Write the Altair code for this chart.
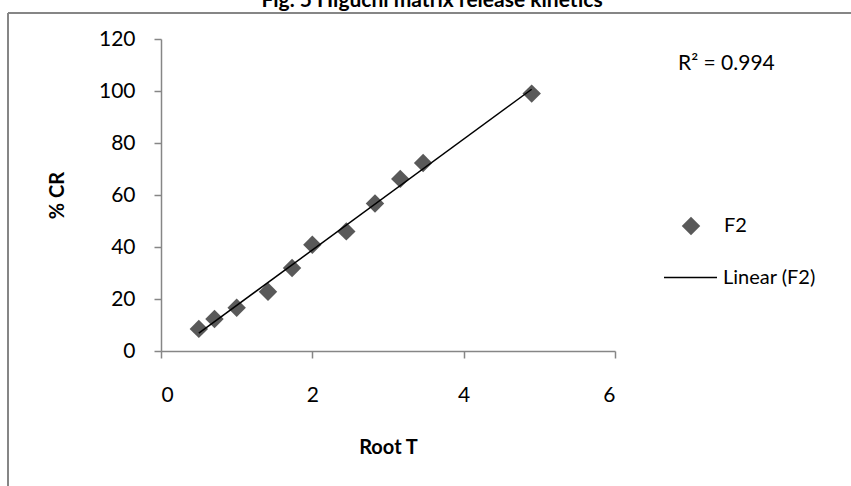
import altair as alt
import pandas as pd

root_t = [0.5, 0.707, 1.0, 1.414, 1.732, 2.0, 2.449, 2.828, 3.162, 3.464, 4.899]
pct_cr = [8.5, 12.3, 16.6, 22.8, 31.9, 40.9, 46.0, 56.7, 66.2, 72.3, 99.0]
series_name = "F2"
trend_name = "Linear (F2)"
r2_label = "R² = 0.994"
title_text = "Fig. 5 Higuchi matrix release kinetics"

df = pd.DataFrame({"x": root_t, "y": pct_cr, "series": [series_name] * len(root_t)})

FONT = "Lato"
GRAY = "#868686"
PT = "#595959"
W, H = 454, 312

xscale = alt.Scale(domain=[0, 6], nice=False, zero=False, padding=0)
yscale = alt.Scale(domain=[0, 120], nice=False, padding=0)

base = alt.Chart(df)

points = base.mark_point(filled=True, size=340, opacity=1, color=PT).encode(
    x=alt.X("x:Q", scale=xscale,
            axis=alt.Axis(values=[0, 2, 4, 6], format="d", title="Root T",
                          titleX=W / 2, titleY=96, titleBaseline="middle")),
    y=alt.Y("y:Q", scale=yscale,
            axis=alt.Axis(values=[0, 20, 40, 60, 80, 100, 120], format="d", title="% CR",
                          titleX=-104, titleY=H / 2, titleBaseline="middle",
                          titleAngle=-90)),
    shape=alt.Shape("series:N",
                    scale=alt.Scale(domain=[series_name], range=["diamond"]),
                    legend=alt.Legend(title=None, orient="none", legendX=520, legendY=177,
                                      symbolSize=340, symbolFillColor=PT,
                                      symbolStrokeWidth=0, labelOffset=23,
                                      labelFont=FONT, labelFontSize=20,
                                      labelColor="black")),
)

trend = base.transform_regression("x", "y").transform_calculate(
    trend="'" + trend_name + "'"
).mark_line(strokeWidth=1.5).encode(
    x=alt.X("x:Q", scale=xscale),
    y=alt.Y("y:Q", scale=yscale),
    color=alt.Color("trend:N",
                    scale=alt.Scale(domain=[trend_name], range=["black"]),
                    legend=alt.Legend(title=None, orient="none", legendX=502, legendY=211,
                                      symbolType="stroke", symbolSize=2809,
                                      symbolStrokeWidth=1.5, labelOffset=5,
                                      labelFont=FONT, labelFontSize=20,
                                      labelColor="black")),
)

r2 = alt.Chart(pd.DataFrame({"t": [r2_label]})).mark_text(
    font=FONT, fontSize=21, align="left", baseline="middle", color="black"
).encode(text="t:N", x=alt.value(517), y=alt.value(25))

title = alt.Chart(pd.DataFrame({"t": [title_text]})).mark_text(
    font=FONT, fontSize=21, fontWeight="bold", align="center", baseline="alphabetic",
    color="black"
).encode(text="t:N", x=alt.value(271), y=alt.value(-32))

frame_top = alt.Chart(pd.DataFrame({"a": [0]})).mark_rule(color=GRAY, strokeWidth=2).encode(
    x=alt.value(-153), x2=alt.value(720), y=alt.value(-26))
frame_left = alt.Chart(pd.DataFrame({"a": [0]})).mark_rule(color=GRAY, strokeWidth=2).encode(
    x=alt.value(-153), y=alt.value(-26), y2=alt.value(500))

chart = alt.layer(frame_top, frame_left, title, points, trend, r2).resolve_legend(
    shape="independent", color="independent"
).properties(
    width=W, height=H,
    autosize=alt.AutoSizeParams(type="none"),
    padding={"left": 161, "top": 39, "right": 236, "bottom": 135},
).configure_view(stroke=None).configure_axis(
    grid=False, domainColor=GRAY, domainWidth=1.5, tickColor=GRAY, tickWidth=1.5,
    tickSize=7, labelFont=FONT, labelFontSize=21, labelColor="black",
    titleFont=FONT, titleFontSize=20, titleFontWeight="bold", titleColor="black",
).configure_axisY(labelPadding=19).configure_axisX(labelPadding=26)

chart.save("out.html", embed_options={"renderer": "svg", "actions": False})
